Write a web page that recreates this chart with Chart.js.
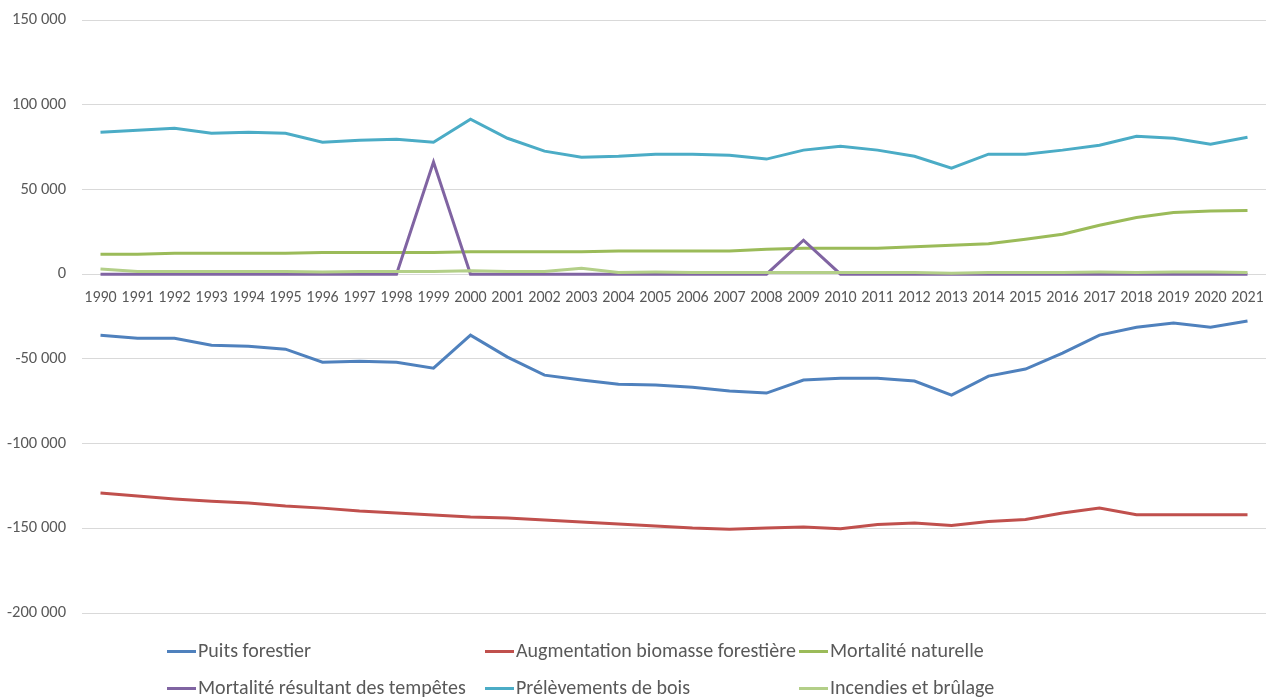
<!DOCTYPE html>
<html>
<head>
<meta charset="utf-8">
<script src="https://cdn.jsdelivr.net/npm/chart.js@4/dist/chart.umd.min.js"></script>
<style>
  html, body { margin: 0; padding: 0; background: #fff; }
  #wrap { position: relative; width: 1267px; height: 697px; }
  #legend { position: absolute; left: 0; top: 0; width: 1267px; height: 697px; pointer-events: none;
            font-family: Carlito, Lato, sans-serif; font-size: 20px; color: #595959; }
  .item { position: absolute; white-space: nowrap; line-height: 24px; }
  .item span.sw { display: inline-block; width: 29px; height: 3px; vertical-align: middle; margin-right: 2px; position: relative; top: -1px; }
</style>
</head>
<body>
<div id="wrap">
  <canvas id="myChart" width="1267" height="697"></canvas>
  <div id="legend"></div>
</div>
<script>
var years = ['1990','1991','1992','1993','1994','1995','1996','1997','1998','1999','2000','2001','2002','2003','2004','2005',
             '2006','2007','2008','2009','2010','2011','2012','2013','2014','2015','2016','2017','2018','2019','2020','2021'];

var puitsForestier = [-36000,-37800,-37800,-42000,-42500,-44300,-52000,-51400,-52000,-55500,-36000,-49000,-59600,-62500,-65000,-65500,
                      -66700,-69000,-70200,-62500,-61400,-61400,-63100,-71400,-60200,-56000,-46600,-36000,-31300,-28900,-31300,-27700];
var augmentationBiomasse = [-129200,-131000,-132700,-134000,-135100,-136900,-138100,-139800,-141000,-142200,-143400,-144000,-145100,-146300,-147500,-148700,
                            -149900,-150500,-149900,-149300,-150200,-147800,-146900,-148400,-146000,-144800,-141000,-138100,-142000,-142000,-142000,-142000];
var mortaliteNaturelle = [11800,11800,12300,12300,12300,12300,12800,12800,12800,12800,13200,13200,13200,13200,13600,13600,
                          13600,13600,14700,15300,15300,15300,16200,17100,17900,20600,23600,28900,33400,36400,37200,37600];
var mortaliteTempetes = [0,0,0,0,0,0,0,0,0,66200,0,0,0,0,0,0,
                         0,0,0,20000,0,0,0,0,0,0,0,0,0,0,0,0];
var prelevementsBois = [83800,85000,86100,83200,83800,83200,77900,79000,79600,77900,91400,80200,72600,69000,69600,70800,
                        70800,70200,67900,73200,75500,73200,69600,62500,70800,70800,73200,76100,81400,80200,76700,80800];
var incendiesBrulage = [3000,1500,1500,1500,1500,1500,1200,1500,1500,1500,2000,1500,1500,3500,1000,1200,
                        1000,1000,1000,1000,1000,1000,1000,500,1000,1000,1000,1200,1000,1200,1200,1000];

var seriesNames = ['Puits forestier','Augmentation biomasse forestière','Mortalité naturelle',
                   'Mortalité résultant des tempêtes','Prélèvements de bois','Incendies et brûlage'];
var seriesData = [puitsForestier, augmentationBiomasse, mortaliteNaturelle, mortaliteTempetes, prelevementsBois, incendiesBrulage];
var seriesColors = ['#4F81BD','#C0504D','#9BBB59','#8064A2','#4BACC6','#B3CF88'];

var yTicks = [150000,100000,50000,0,-50000,-100000,-150000,-200000];

var fontFam = "Carlito, Lato, sans-serif";

function fmt(v) {
    var s = Math.abs(v).toString().replace(/\B(?=(\d{3})+(?!\d))/g, ' ');
    return (v < 0 ? '-' : '') + s;
}

var datasets = seriesNames.map(function (name, i) {
    return {
        label: name,
        data: seriesData[i],
        borderColor: seriesColors[i],
        backgroundColor: seriesColors[i],
        borderWidth: 3,
        pointRadius: 0,
        tension: 0,
        fill: false,
        order: seriesNames.length - i
    };
});

var ctx = document.getElementById('myChart').getContext('2d');
var chart = new Chart(ctx, {
    type: 'line',
    data: { labels: years, datasets: datasets },
    options: {
        responsive: false,
        animation: false,
        layout: { padding: { left: 0, right: 1, top: 20, bottom: 84 } },
        plugins: { legend: { display: false }, tooltip: { enabled: false } },
        scales: {
            x: {
                position: { y: 0 },
                offset: true,
                afterFit: function (s) { s.paddingLeft = 0; s.paddingRight = 0; },
                grid: { display: false, drawTicks: false },
                border: { display: false },
                ticks: { color: '#595959', font: { family: fontFam, size: 16 }, padding: 14, maxRotation: 0, autoSkip: false }
            },
            y: {
                min: -200000,
                max: 150000,
                afterFit: function (s) { s.width = 82; s.paddingTop = 0; s.paddingBottom = 0; },
                afterBuildTicks: function (s) { s.ticks = yTicks.map(function (v) { return { value: v }; }); },
                grid: { color: '#D9D9D9', lineWidth: 1, drawTicks: false },
                border: { display: false },
                ticks: { color: '#595959', font: { family: fontFam, size: 16.5 }, padding: 16,
                         callback: function (v) { return fmt(v); } }
            }
        }
    }
});

// legend in three columns, two rows, like the original
var legendEl = document.getElementById('legend');
var colX = [167, 485, 799];
var rowY = [638, 675];
chart.data.datasets.forEach(function (ds, i) {
    var d = document.createElement('div');
    d.className = 'item';
    d.style.left = colX[i % 3] + 'px';
    d.style.top = rowY[Math.floor(i / 3)] + 'px';
    d.innerHTML = '<span class="sw" style="background:' + ds.borderColor + '"></span>' + ds.label;
    legendEl.appendChild(d);
});
</script>
</body>
</html>
